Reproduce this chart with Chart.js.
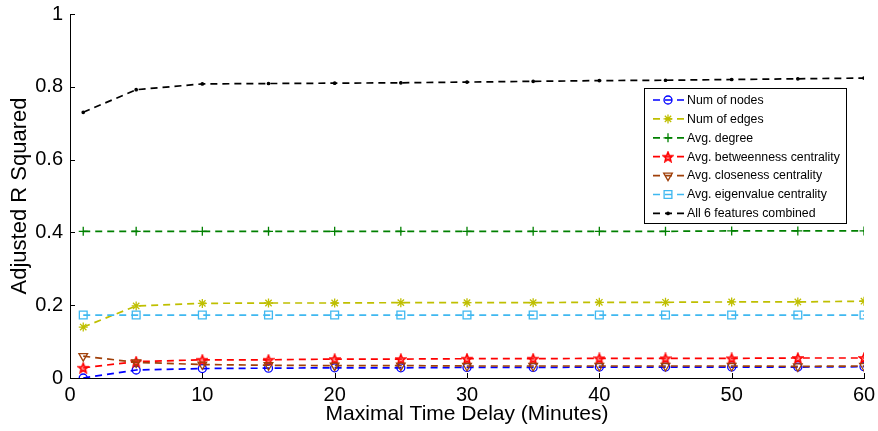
<!DOCTYPE html>
<html>
<head>
<meta charset="utf-8">
<script src="https://cdn.jsdelivr.net/npm/chart.js@4/dist/chart.umd.min.js"></script>
<style>
  html, body { margin: 0; padding: 0; background: #fff; }
  #wrap { width: 878px; height: 431px; position: relative; }
</style>
</head>
<body>
<div id="wrap"><canvas id="chart"></canvas></div>
<script>
const delays = [1, 5, 10, 15, 20, 25, 30, 35, 40, 45, 50, 55, 60];

const numNodes = [0.0, 0.022, 0.026, 0.027, 0.028, 0.028, 0.029, 0.029, 0.030, 0.030, 0.030, 0.030, 0.031];
const numEdges = [0.140, 0.198, 0.205, 0.206, 0.206, 0.207, 0.207, 0.207, 0.208, 0.208, 0.209, 0.209, 0.211];
const avgDegree = [0.403, 0.403, 0.403, 0.403, 0.403, 0.403, 0.403, 0.403, 0.403, 0.403, 0.404, 0.404, 0.404];
const avgBetweenness = [0.028, 0.045, 0.050, 0.050, 0.052, 0.052, 0.053, 0.053, 0.054, 0.054, 0.054, 0.055, 0.055];
const avgCloseness = [0.060, 0.043, 0.037, 0.035, 0.034, 0.034, 0.033, 0.033, 0.033, 0.033, 0.033, 0.032, 0.033];
const avgEigenvalue = [0.173, 0.173, 0.173, 0.173, 0.173, 0.173, 0.173, 0.173, 0.173, 0.173, 0.173, 0.173, 0.173];
const allCombined = [0.730, 0.792, 0.808, 0.809, 0.810, 0.811, 0.813, 0.815, 0.817, 0.818, 0.820, 0.822, 0.824];

const seriesNames = [
  "Num of nodes",
  "Num of edges",
  "Avg. degree",
  "Avg. betweenness centrality",
  "Avg. closeness centrality",
  "Avg. eigenvalue centrality",
  "All 6 features combined",
];

const xTicks = [0, 10, 20, 30, 40, 50, 60];
const yTicks = [0, 0.2, 0.4, 0.6, 0.8, 1];

const FONT = "Arial, 'Liberation Sans', sans-serif";

// five-pointed star marker (matlab 'p')
function pentagram(color) {
  const c = document.createElement("canvas");
  c.width = 12; c.height = 12;
  const g = c.getContext("2d");
  g.strokeStyle = color;
  g.fillStyle = "rgba(255,60,60,0.55)";
  g.lineWidth = 1.6;
  g.beginPath();
  for (let i = 0; i < 10; i++) {
    const r = i % 2 === 0 ? 5 : 2.2;
    const a = -Math.PI / 2 + i * Math.PI / 5;
    const px = 6 + r * Math.cos(a), py = 6.5 + r * Math.sin(a);
    i === 0 ? g.moveTo(px, py) : g.lineTo(px, py);
  }
  g.closePath();
  g.fill();
  g.stroke();
  return c;
}

const styles = [
  { color: "#0000ff", pointStyle: "circle", radius: 4 },
  { color: "#bfbf00", pointStyle: "star", radius: 4.5 },
  { color: "#008000", pointStyle: "cross", radius: 4.5 },
  { color: "#ff0000", pointStyle: pentagram("#ff0000"), radius: 5 },
  { color: "#a0400a", pointStyle: "triangle", radius: 5, rotation: 180 },
  { color: "#3fb8f0", pointStyle: "rect", radius: 5.5 },
  { color: "#000000", pointStyle: "circle", radius: 1.2 },
];

const values = [numNodes, numEdges, avgDegree, avgBetweenness, avgCloseness, avgEigenvalue, allCombined];

const datasets = values.map((vals, i) => ({
  label: seriesNames[i],
  data: vals.map((v, j) => ({ x: delays[j], y: v })),
  borderColor: styles[i].color,
  backgroundColor: i === 6 ? "#000" : "transparent",
  pointBorderColor: styles[i].color,
  pointBackgroundColor: i === 6 ? "#000" : "transparent",
  pointStyle: styles[i].pointStyle,
  pointRadius: styles[i].radius,
  pointRotation: styles[i].rotation || 0,
  pointBorderWidth: 1.3,
  borderWidth: 1.7,
  borderDash: [7, 5],
  tension: 0,
  order: values.length - i,
}));

// boxed legend inside the plot, matlab style
const boxLegend = {
  id: "boxLegend",
  afterDraw(chart) {
    const ctx = chart.ctx;
    const x0 = 644, y0 = 88, w = 202, h = 135;
    ctx.save();
    ctx.fillStyle = "#fff";
    ctx.fillRect(x0, y0, w, h);
    ctx.strokeStyle = "#000";
    ctx.lineWidth = 1;
    ctx.strokeRect(x0 + 0.5, y0 + 0.5, w, h);
    ctx.font = "12.3px " + FONT;
    ctx.textBaseline = "middle";
    chart.data.datasets.forEach((ds, i) => {
      const y = 100 + i * 18.9;
      ctx.strokeStyle = ds.borderColor;
      ctx.lineWidth = 1.7;
      ctx.setLineDash([7, 5]);
      ctx.beginPath();
      ctx.moveTo(653, y);
      ctx.lineTo(684, y);
      ctx.stroke();
      ctx.setLineDash([]);
      ctx.lineWidth = 1.3;
      ctx.fillStyle = ds.pointBackgroundColor;
      Chart.helpers.drawPoint(ctx, {
        pointStyle: ds.pointStyle,
        radius: ds.pointRadius,
        rotation: ds.pointRotation,
        borderWidth: 1.3,
      }, 668, y);
      ctx.fillStyle = "#000";
      ctx.fillText(ds.label, 687, y + 0.5);
    });
    ctx.restore();
  },
};

// ticks pointing into the plot
const innerTicks = {
  id: "innerTicks",
  afterDraw(chart) {
    const { ctx, chartArea: a, scales } = chart;
    ctx.save();
    ctx.strokeStyle = "#000";
    ctx.lineWidth = 1;
    ctx.beginPath();
    xTicks.forEach((v) => {
      const x = Math.round(scales.x.getPixelForValue(v)) + 0.5;
      ctx.moveTo(x, a.bottom);
      ctx.lineTo(x, a.bottom - 5);
    });
    yTicks.forEach((v) => {
      const y = Math.round(scales.y.getPixelForValue(v)) + 0.5;
      ctx.moveTo(a.left, y);
      ctx.lineTo(a.left + 5, y);
    });
    ctx.stroke();
    ctx.restore();
  },
};

new Chart(document.getElementById("chart"), {
  type: "line",
  data: { datasets },
  plugins: [innerTicks, boxLegend],
  options: {
    responsive: true,
    maintainAspectRatio: false,
    animation: false,
    layout: { padding: { top: 14, right: 14, left: 7, bottom: 4 } },
    plugins: { legend: { display: false }, tooltip: { enabled: false } },
    scales: {
      x: {
        type: "linear",
        min: 0,
        max: 60,
        afterBuildTicks: (s) => { s.ticks = xTicks.map((v) => ({ value: v })); },
        afterFit: (s) => { s.height = 49; s.paddingLeft = 0; s.paddingRight = 0; },
        grid: { display: false, drawTicks: false },
        border: { color: "#000", width: 1 },
        ticks: {
          color: "#000",
          padding: 5,
          font: { family: FONT, size: 20 },
        },
        title: {
          display: true,
          text: "Maximal Time Delay (Minutes)",
          color: "#000",
          padding: { top: 0, bottom: 0 },
          font: { family: FONT, size: 21 },
        },
      },
      y: {
        min: 0,
        max: 1,
        afterBuildTicks: (s) => { s.ticks = yTicks.map((v) => ({ value: v })); },
        afterFit: (s) => { s.width = 63; s.paddingTop = 0; s.paddingBottom = 0; },
        grid: { display: false, drawTicks: false },
        border: { color: "#000", width: 1 },
        ticks: {
          color: "#000",
          padding: 7,
          font: { family: FONT, size: 20 },
          callback: (v) => String(Math.round(v * 10) / 10),
        },
        title: {
          display: true,
          text: "Adjusted R Squared",
          color: "#000",
          padding: { top: 0, bottom: 0 },
          font: { family: FONT, size: 22 },
        },
      },
    },
  },
});
</script>
</body>
</html>
